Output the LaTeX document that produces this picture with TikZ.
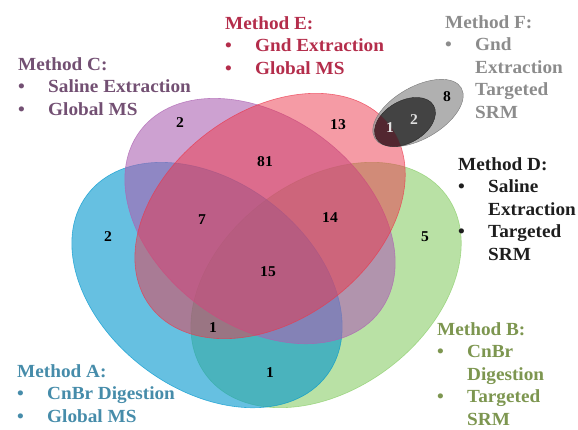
\documentclass[tikz,border=0pt]{standalone}
\usepackage{fontspec}
\setmainfont{Liberation Serif}[FakeStretch=1.04]
\usepackage{tikz}

\definecolor{colA}{RGB}{0,150,205}
\definecolor{colB}{RGB}{138,205,105}
\definecolor{colC}{RGB}{172,98,178}
\definecolor{colE}{RGB}{235,55,75}
\definecolor{colF}{RGB}{150,150,150}
\definecolor{colFd}{RGB}{40,40,40}
\definecolor{colFe}{RGB}{95,25,40}
\definecolor{txtA}{RGB}{70,140,170}
\definecolor{txtB}{RGB}{125,150,80}
\definecolor{txtC}{RGB}{115,80,115}
\definecolor{txtD}{RGB}{30,30,30}
\definecolor{txtE}{RGB}{180,45,75}
\definecolor{txtF}{RGB}{140,140,140}

\newcommand{\mb}{\makebox[30pt][l]{\textbullet}}
\newcommand{\mi}{\hspace*{30pt}}

\tikzset{
	setfill/.style={fill=#1, fill opacity=0.6, draw=#1, draw opacity=0.7, line width=0.6pt},
	method/.style={font=\bfseries\fontsize{18.5}{22.5}\selectfont, text=#1, align=left, anchor=north west, inner sep=0pt},
	count/.style={font=\bfseries\fontsize{15}{15}\selectfont, inner sep=1pt},
}

\begin{document}
\begin{tikzpicture}[x=1pt,y=-1pt]
	\useasboundingbox (0,0) rectangle (578,430);

		\coordinate (cA) at (207,285);
		\coordinate (cB) at (326,285);
		\coordinate (cC) at (260,221);
		\coordinate (cE) at (270,216);
		\coordinate (cF) at (418,113);
		\coordinate (cFd) at (405,122);

		\fill[setfill=colB, rotate around={37:(cB)}] (cB) ellipse [x radius=150, y radius=104];
		\fill[setfill=colA, rotate around={-37:(cA)}] (cA) ellipse [x radius=150, y radius=104];
		\fill[setfill=colC, rotate around={-37:(cC)}] (cC) ellipse [x radius=150, y radius=104];
		\fill[setfill=colE, fill opacity=0.5, rotate around={37:(cE)}] (cE) ellipse [x radius=150, y radius=104];

		\filldraw[fill=colF, fill opacity=0.75, draw=colF!80!black, rotate around={30:(cF)}] (cF) ellipse [x radius=50, y radius=26];
		\filldraw[fill=colFd, fill opacity=0.8, draw=colFd, rotate around={30:(cFd)}] (cFd) ellipse [x radius=33, y radius=21];
		\begin{scope}
			\clip[rotate around={37:(cE)}] (cE) ellipse [x radius=150, y radius=104];
			\fill[colFe, fill opacity=0.6, rotate around={30:(cFd)}] (cFd) ellipse [x radius=33, y radius=21];
		\end{scope}

		\node[count] (n2C) at (180,123) {2};
		\node[count] (n13) at (338,125) {13};
		\node[count] (n81) at (265,162) {81};
		\node[count] (n7) at (202,220) {7};
		\node[count] (n14) at (330,218) {14};
		\node[count] (n2A) at (108,237) {2};
		\node[count] (n5) at (425,237) {5};
		\node[count] (n15) at (268,272) {15};
		\node[count] (n1ABC) at (213,328) {1};
		\node[count] (n1AB) at (270,373) {1};
		\node[count, text=white!88!black] (n1EF) at (390,128) {1};
		\node[count, text=white!88!black] (n2F) at (414,120) {2};
		\node[count] (n8F) at (447,97) {8};

		\node[method=txtC] (mC) at (18,57) {Method C:\\ \mb Saline Extraction\\ \mb Global MS};
		\node[method=txtE] (mE) at (225,16) {Method E:\\ \mb Gnd Extraction\\ \mb Global MS};
		\node[method=txtF] (mF) at (445,15) {Method F:\\ \mb Gnd\\ \mi Extraction\\ \mi Targeted\\ \mi SRM};
		\node[method=txtD] (mD) at (458,157) {Method D:\\ \mb Saline\\ \mi Extraction\\ \mb Targeted\\ \mi SRM};
		\node[method=txtB] (mB) at (437,322) {Method B:\\ \mb CnBr\\ \mi Digestion\\ \mb Targeted\\ \mi SRM};
		\node[method=txtA] (mA) at (17,364) {Method A:\\ \mb CnBr Digestion\\ \mb Global MS};

\end{tikzpicture}
\end{document}
